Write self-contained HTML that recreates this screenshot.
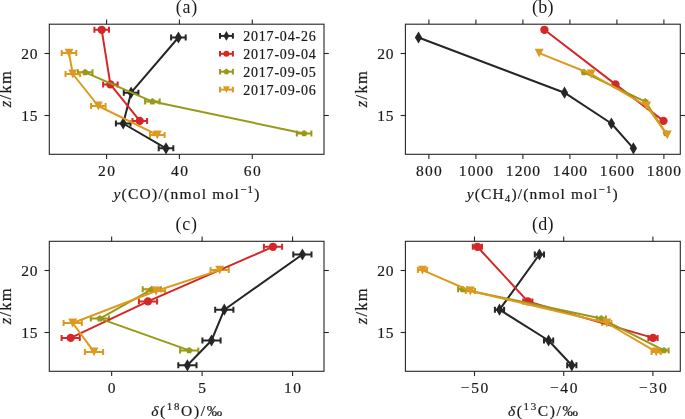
<!DOCTYPE html>
<html><head><meta charset="utf-8"><style>
html,body{margin:0;padding:0;background:#fff;}
svg{display:block;will-change:transform;}
text{font-family:"Liberation Serif",serif;fill:#1a1a1a;stroke:#1a1a1a;stroke-width:0.2px;}
</style></head><body>
<svg width="685" height="419" viewBox="0 0 685 419">
<clipPath id="cpa"><rect x="49.3" y="24.2" width="274.7" height="130.1"/></clipPath>
<clipPath id="cpb"><rect x="405.4" y="24.2" width="274.9" height="130.1"/></clipPath>
<clipPath id="cpc"><rect x="49.3" y="241.3" width="274.7" height="130"/></clipPath>
<clipPath id="cpd"><rect x="405.4" y="241.3" width="274.9" height="130"/></clipPath>
<g clip-path="url(#cpa)">
<line x1="171.1" y1="37.5" x2="185.7" y2="37.5" stroke="#262626" stroke-width="2.0"/>
<line x1="123.8" y1="92.7" x2="138.4" y2="92.7" stroke="#262626" stroke-width="2.0"/>
<line x1="115.9" y1="123.5" x2="130.5" y2="123.5" stroke="#262626" stroke-width="2.0"/>
<line x1="158.7" y1="148.3" x2="173.3" y2="148.3" stroke="#262626" stroke-width="2.0"/>
<line x1="171.1" y1="34.5" x2="171.1" y2="40.5" stroke="#262626" stroke-width="2.0"/>
<line x1="185.7" y1="34.5" x2="185.7" y2="40.5" stroke="#262626" stroke-width="2.0"/>
<line x1="123.8" y1="89.7" x2="123.8" y2="95.7" stroke="#262626" stroke-width="2.0"/>
<line x1="138.4" y1="89.7" x2="138.4" y2="95.7" stroke="#262626" stroke-width="2.0"/>
<line x1="115.9" y1="120.5" x2="115.9" y2="126.5" stroke="#262626" stroke-width="2.0"/>
<line x1="130.5" y1="120.5" x2="130.5" y2="126.5" stroke="#262626" stroke-width="2.0"/>
<line x1="158.7" y1="145.3" x2="158.7" y2="151.3" stroke="#262626" stroke-width="2.0"/>
<line x1="173.3" y1="145.3" x2="173.3" y2="151.3" stroke="#262626" stroke-width="2.0"/>
<line x1="94.4" y1="29.8" x2="109" y2="29.8" stroke="#d62728" stroke-width="2.0"/>
<line x1="103.1" y1="84.4" x2="117.7" y2="84.4" stroke="#d62728" stroke-width="2.0"/>
<line x1="132.5" y1="120.9" x2="147.1" y2="120.9" stroke="#d62728" stroke-width="2.0"/>
<line x1="94.4" y1="26.8" x2="94.4" y2="32.8" stroke="#d62728" stroke-width="2.0"/>
<line x1="109" y1="26.8" x2="109" y2="32.8" stroke="#d62728" stroke-width="2.0"/>
<line x1="103.1" y1="81.4" x2="103.1" y2="87.4" stroke="#d62728" stroke-width="2.0"/>
<line x1="117.7" y1="81.4" x2="117.7" y2="87.4" stroke="#d62728" stroke-width="2.0"/>
<line x1="132.5" y1="117.9" x2="132.5" y2="123.9" stroke="#d62728" stroke-width="2.0"/>
<line x1="147.1" y1="117.9" x2="147.1" y2="123.9" stroke="#d62728" stroke-width="2.0"/>
<line x1="77.9" y1="72.3" x2="92.5" y2="72.3" stroke="#999918" stroke-width="2.0"/>
<line x1="145.1" y1="101.6" x2="159.7" y2="101.6" stroke="#999918" stroke-width="2.0"/>
<line x1="296.8" y1="133.4" x2="311.4" y2="133.4" stroke="#999918" stroke-width="2.0"/>
<line x1="77.9" y1="69.3" x2="77.9" y2="75.3" stroke="#999918" stroke-width="2.0"/>
<line x1="92.5" y1="69.3" x2="92.5" y2="75.3" stroke="#999918" stroke-width="2.0"/>
<line x1="145.1" y1="98.6" x2="145.1" y2="104.6" stroke="#999918" stroke-width="2.0"/>
<line x1="159.7" y1="98.6" x2="159.7" y2="104.6" stroke="#999918" stroke-width="2.0"/>
<line x1="296.8" y1="130.4" x2="296.8" y2="136.4" stroke="#999918" stroke-width="2.0"/>
<line x1="311.4" y1="130.4" x2="311.4" y2="136.4" stroke="#999918" stroke-width="2.0"/>
<line x1="61.7" y1="53.1" x2="76.3" y2="53.1" stroke="#dc9a1e" stroke-width="2.0"/>
<line x1="65.5" y1="74" x2="80.1" y2="74" stroke="#dc9a1e" stroke-width="2.0"/>
<line x1="91" y1="106" x2="105.6" y2="106" stroke="#dc9a1e" stroke-width="2.0"/>
<line x1="150" y1="134.9" x2="164.6" y2="134.9" stroke="#dc9a1e" stroke-width="2.0"/>
<line x1="61.7" y1="50.1" x2="61.7" y2="56.1" stroke="#dc9a1e" stroke-width="2.0"/>
<line x1="76.3" y1="50.1" x2="76.3" y2="56.1" stroke="#dc9a1e" stroke-width="2.0"/>
<line x1="65.5" y1="71" x2="65.5" y2="77" stroke="#dc9a1e" stroke-width="2.0"/>
<line x1="80.1" y1="71" x2="80.1" y2="77" stroke="#dc9a1e" stroke-width="2.0"/>
<line x1="91" y1="103" x2="91" y2="109" stroke="#dc9a1e" stroke-width="2.0"/>
<line x1="105.6" y1="103" x2="105.6" y2="109" stroke="#dc9a1e" stroke-width="2.0"/>
<line x1="150" y1="131.9" x2="150" y2="137.9" stroke="#dc9a1e" stroke-width="2.0"/>
<line x1="164.6" y1="131.9" x2="164.6" y2="137.9" stroke="#dc9a1e" stroke-width="2.0"/>
<polyline points="178.4,37.5 131.1,92.7 123.2,123.5 166,148.3" fill="none" stroke="#262626" stroke-width="2.0" stroke-linejoin="round" stroke-linecap="butt"/>
<path d="M178.4 31.42L182.05 37.5L178.4 43.58L174.75 37.5Z" fill="#262626"/>
<path d="M131.1 86.62L134.75 92.7L131.1 98.78L127.45 92.7Z" fill="#262626"/>
<path d="M123.2 117.42L126.85 123.5L123.2 129.58L119.55 123.5Z" fill="#262626"/>
<path d="M166 142.22L169.65 148.3L166 154.38L162.35 148.3Z" fill="#262626"/>
<polyline points="101.7,29.8 110.4,84.4 139.8,120.9" fill="none" stroke="#d62728" stroke-width="2.0" stroke-linejoin="round" stroke-linecap="butt"/>
<circle cx="101.7" cy="29.8" r="4.15" fill="#d62728"/>
<circle cx="110.4" cy="84.4" r="4.15" fill="#d62728"/>
<circle cx="139.8" cy="120.9" r="4.15" fill="#d62728"/>
<polyline points="85.2,72.3 152.4,101.6 304.1,133.4" fill="none" stroke="#999918" stroke-width="2.0" stroke-linejoin="round" stroke-linecap="butt"/>
<path d="M85.2 68.8L88.53 71.22L87.26 75.13L83.14 75.13L81.87 71.22Z" fill="#999918"/>
<path d="M152.4 98.1L155.73 100.52L154.46 104.43L150.34 104.43L149.07 100.52Z" fill="#999918"/>
<path d="M304.1 129.9L307.43 132.32L306.16 136.23L302.04 136.23L300.77 132.32Z" fill="#999918"/>
<polyline points="69,53.1 72.8,74 98.3,106 157.3,134.9" fill="none" stroke="#dc9a1e" stroke-width="2.0" stroke-linejoin="round" stroke-linecap="butt"/>
<path d="M64.55 48.65L73.45 48.65L69 57.55Z" fill="#dc9a1e"/>
<path d="M68.35 69.55L77.25 69.55L72.8 78.45Z" fill="#dc9a1e"/>
<path d="M93.85 101.55L102.75 101.55L98.3 110.45Z" fill="#dc9a1e"/>
<path d="M152.85 130.45L161.75 130.45L157.3 139.35Z" fill="#dc9a1e"/>
</g>
<rect x="49.3" y="24.2" width="274.7" height="130.1" fill="none" stroke="#262626" stroke-width="1.1"/>
<line x1="106.6" y1="154.3" x2="106.6" y2="159.1" stroke="#262626" stroke-width="1.1"/>
<line x1="106.6" y1="24.2" x2="106.6" y2="19.4" stroke="#262626" stroke-width="1.1"/>
<line x1="179.4" y1="154.3" x2="179.4" y2="159.1" stroke="#262626" stroke-width="1.1"/>
<line x1="179.4" y1="24.2" x2="179.4" y2="19.4" stroke="#262626" stroke-width="1.1"/>
<line x1="252.3" y1="154.3" x2="252.3" y2="159.1" stroke="#262626" stroke-width="1.1"/>
<line x1="252.3" y1="24.2" x2="252.3" y2="19.4" stroke="#262626" stroke-width="1.1"/>
<line x1="44.5" y1="53.5" x2="49.3" y2="53.5" stroke="#262626" stroke-width="1.1"/>
<line x1="324" y1="53.5" x2="328.8" y2="53.5" stroke="#262626" stroke-width="1.1"/>
<line x1="44.5" y1="115.5" x2="49.3" y2="115.5" stroke="#262626" stroke-width="1.1"/>
<line x1="324" y1="115.5" x2="328.8" y2="115.5" stroke="#262626" stroke-width="1.1"/>
<g clip-path="url(#cpb)">
<polyline points="418.5,37.5 564.5,92.7 611.4,123.5 633.4,148.3" fill="none" stroke="#262626" stroke-width="2.0" stroke-linejoin="round" stroke-linecap="butt"/>
<path d="M418.5 31.42L422.15 37.5L418.5 43.58L414.85 37.5Z" fill="#262626"/>
<path d="M564.5 86.62L568.15 92.7L564.5 98.78L560.85 92.7Z" fill="#262626"/>
<path d="M611.4 117.42L615.05 123.5L611.4 129.58L607.75 123.5Z" fill="#262626"/>
<path d="M633.4 142.22L637.05 148.3L633.4 154.38L629.75 148.3Z" fill="#262626"/>
<polyline points="544.4,29.8 615.5,84.4 663.5,120.9" fill="none" stroke="#d62728" stroke-width="2.0" stroke-linejoin="round" stroke-linecap="butt"/>
<circle cx="544.4" cy="29.8" r="4.15" fill="#d62728"/>
<circle cx="615.5" cy="84.4" r="4.15" fill="#d62728"/>
<circle cx="663.5" cy="120.9" r="4.15" fill="#d62728"/>
<polyline points="583.9,72.3 645.3,101.6 666,133.4" fill="none" stroke="#999918" stroke-width="2.0" stroke-linejoin="round" stroke-linecap="butt"/>
<path d="M583.9 68.8L587.23 71.22L585.96 75.13L581.84 75.13L580.57 71.22Z" fill="#999918"/>
<path d="M645.3 98.1L648.63 100.52L647.36 104.43L643.24 104.43L641.97 100.52Z" fill="#999918"/>
<path d="M666 129.9L669.33 132.32L668.06 136.23L663.94 136.23L662.67 132.32Z" fill="#999918"/>
<polyline points="539.2,53.1 591.2,74 646.6,106 667.3,134.9" fill="none" stroke="#dc9a1e" stroke-width="2.0" stroke-linejoin="round" stroke-linecap="butt"/>
<path d="M534.75 48.65L543.65 48.65L539.2 57.55Z" fill="#dc9a1e"/>
<path d="M586.75 69.55L595.65 69.55L591.2 78.45Z" fill="#dc9a1e"/>
<path d="M642.15 101.55L651.05 101.55L646.6 110.45Z" fill="#dc9a1e"/>
<path d="M662.85 130.45L671.75 130.45L667.3 139.35Z" fill="#dc9a1e"/>
</g>
<rect x="405.4" y="24.2" width="274.9" height="130.1" fill="none" stroke="#262626" stroke-width="1.1"/>
<line x1="428.9" y1="154.3" x2="428.9" y2="159.1" stroke="#262626" stroke-width="1.1"/>
<line x1="428.9" y1="24.2" x2="428.9" y2="19.4" stroke="#262626" stroke-width="1.1"/>
<line x1="475.9" y1="154.3" x2="475.9" y2="159.1" stroke="#262626" stroke-width="1.1"/>
<line x1="475.9" y1="24.2" x2="475.9" y2="19.4" stroke="#262626" stroke-width="1.1"/>
<line x1="522.9" y1="154.3" x2="522.9" y2="159.1" stroke="#262626" stroke-width="1.1"/>
<line x1="522.9" y1="24.2" x2="522.9" y2="19.4" stroke="#262626" stroke-width="1.1"/>
<line x1="569.9" y1="154.3" x2="569.9" y2="159.1" stroke="#262626" stroke-width="1.1"/>
<line x1="569.9" y1="24.2" x2="569.9" y2="19.4" stroke="#262626" stroke-width="1.1"/>
<line x1="616.9" y1="154.3" x2="616.9" y2="159.1" stroke="#262626" stroke-width="1.1"/>
<line x1="616.9" y1="24.2" x2="616.9" y2="19.4" stroke="#262626" stroke-width="1.1"/>
<line x1="663.9" y1="154.3" x2="663.9" y2="159.1" stroke="#262626" stroke-width="1.1"/>
<line x1="663.9" y1="24.2" x2="663.9" y2="19.4" stroke="#262626" stroke-width="1.1"/>
<line x1="400.6" y1="53.5" x2="405.4" y2="53.5" stroke="#262626" stroke-width="1.1"/>
<line x1="680.3" y1="53.5" x2="685.1" y2="53.5" stroke="#262626" stroke-width="1.1"/>
<line x1="400.6" y1="115.5" x2="405.4" y2="115.5" stroke="#262626" stroke-width="1.1"/>
<line x1="680.3" y1="115.5" x2="685.1" y2="115.5" stroke="#262626" stroke-width="1.1"/>
<g clip-path="url(#cpc)">
<line x1="293.3" y1="254.5" x2="311.5" y2="254.5" stroke="#262626" stroke-width="2.0"/>
<line x1="215.2" y1="309.7" x2="233.4" y2="309.7" stroke="#262626" stroke-width="2.0"/>
<line x1="202.4" y1="340.5" x2="220.6" y2="340.5" stroke="#262626" stroke-width="2.0"/>
<line x1="178.3" y1="365.3" x2="196.5" y2="365.3" stroke="#262626" stroke-width="2.0"/>
<line x1="293.3" y1="251.5" x2="293.3" y2="257.5" stroke="#262626" stroke-width="2.0"/>
<line x1="311.5" y1="251.5" x2="311.5" y2="257.5" stroke="#262626" stroke-width="2.0"/>
<line x1="215.2" y1="306.7" x2="215.2" y2="312.7" stroke="#262626" stroke-width="2.0"/>
<line x1="233.4" y1="306.7" x2="233.4" y2="312.7" stroke="#262626" stroke-width="2.0"/>
<line x1="202.4" y1="337.5" x2="202.4" y2="343.5" stroke="#262626" stroke-width="2.0"/>
<line x1="220.6" y1="337.5" x2="220.6" y2="343.5" stroke="#262626" stroke-width="2.0"/>
<line x1="178.3" y1="362.3" x2="178.3" y2="368.3" stroke="#262626" stroke-width="2.0"/>
<line x1="196.5" y1="362.3" x2="196.5" y2="368.3" stroke="#262626" stroke-width="2.0"/>
<line x1="263.9" y1="246.8" x2="282.1" y2="246.8" stroke="#d62728" stroke-width="2.0"/>
<line x1="138.9" y1="301.4" x2="157.1" y2="301.4" stroke="#d62728" stroke-width="2.0"/>
<line x1="61.6" y1="337.9" x2="79.8" y2="337.9" stroke="#d62728" stroke-width="2.0"/>
<line x1="263.9" y1="243.8" x2="263.9" y2="249.8" stroke="#d62728" stroke-width="2.0"/>
<line x1="282.1" y1="243.8" x2="282.1" y2="249.8" stroke="#d62728" stroke-width="2.0"/>
<line x1="138.9" y1="298.4" x2="138.9" y2="304.4" stroke="#d62728" stroke-width="2.0"/>
<line x1="157.1" y1="298.4" x2="157.1" y2="304.4" stroke="#d62728" stroke-width="2.0"/>
<line x1="61.6" y1="334.9" x2="61.6" y2="340.9" stroke="#d62728" stroke-width="2.0"/>
<line x1="79.8" y1="334.9" x2="79.8" y2="340.9" stroke="#d62728" stroke-width="2.0"/>
<line x1="142.7" y1="289.3" x2="160.9" y2="289.3" stroke="#999918" stroke-width="2.0"/>
<line x1="90.8" y1="318.6" x2="109" y2="318.6" stroke="#999918" stroke-width="2.0"/>
<line x1="180.1" y1="350.4" x2="198.3" y2="350.4" stroke="#999918" stroke-width="2.0"/>
<line x1="142.7" y1="286.3" x2="142.7" y2="292.3" stroke="#999918" stroke-width="2.0"/>
<line x1="160.9" y1="286.3" x2="160.9" y2="292.3" stroke="#999918" stroke-width="2.0"/>
<line x1="90.8" y1="315.6" x2="90.8" y2="321.6" stroke="#999918" stroke-width="2.0"/>
<line x1="109" y1="315.6" x2="109" y2="321.6" stroke="#999918" stroke-width="2.0"/>
<line x1="180.1" y1="347.4" x2="180.1" y2="353.4" stroke="#999918" stroke-width="2.0"/>
<line x1="198.3" y1="347.4" x2="198.3" y2="353.4" stroke="#999918" stroke-width="2.0"/>
<line x1="210.6" y1="270.1" x2="228.8" y2="270.1" stroke="#dc9a1e" stroke-width="2.0"/>
<line x1="146.9" y1="291" x2="165.1" y2="291" stroke="#dc9a1e" stroke-width="2.0"/>
<line x1="63.6" y1="323" x2="81.8" y2="323" stroke="#dc9a1e" stroke-width="2.0"/>
<line x1="84.9" y1="351.9" x2="103.1" y2="351.9" stroke="#dc9a1e" stroke-width="2.0"/>
<line x1="210.6" y1="267.1" x2="210.6" y2="273.1" stroke="#dc9a1e" stroke-width="2.0"/>
<line x1="228.8" y1="267.1" x2="228.8" y2="273.1" stroke="#dc9a1e" stroke-width="2.0"/>
<line x1="146.9" y1="288" x2="146.9" y2="294" stroke="#dc9a1e" stroke-width="2.0"/>
<line x1="165.1" y1="288" x2="165.1" y2="294" stroke="#dc9a1e" stroke-width="2.0"/>
<line x1="63.6" y1="320" x2="63.6" y2="326" stroke="#dc9a1e" stroke-width="2.0"/>
<line x1="81.8" y1="320" x2="81.8" y2="326" stroke="#dc9a1e" stroke-width="2.0"/>
<line x1="84.9" y1="348.9" x2="84.9" y2="354.9" stroke="#dc9a1e" stroke-width="2.0"/>
<line x1="103.1" y1="348.9" x2="103.1" y2="354.9" stroke="#dc9a1e" stroke-width="2.0"/>
<polyline points="302.4,254.5 224.3,309.7 211.5,340.5 187.4,365.3" fill="none" stroke="#262626" stroke-width="2.0" stroke-linejoin="round" stroke-linecap="butt"/>
<path d="M302.4 248.42L306.05 254.5L302.4 260.58L298.75 254.5Z" fill="#262626"/>
<path d="M224.3 303.62L227.95 309.7L224.3 315.78L220.65 309.7Z" fill="#262626"/>
<path d="M211.5 334.42L215.15 340.5L211.5 346.58L207.85 340.5Z" fill="#262626"/>
<path d="M187.4 359.22L191.05 365.3L187.4 371.38L183.75 365.3Z" fill="#262626"/>
<polyline points="273,246.8 148,301.4 70.7,337.9" fill="none" stroke="#d62728" stroke-width="2.0" stroke-linejoin="round" stroke-linecap="butt"/>
<circle cx="273" cy="246.8" r="4.15" fill="#d62728"/>
<circle cx="148" cy="301.4" r="4.15" fill="#d62728"/>
<circle cx="70.7" cy="337.9" r="4.15" fill="#d62728"/>
<polyline points="151.8,289.3 99.9,318.6 189.2,350.4" fill="none" stroke="#999918" stroke-width="2.0" stroke-linejoin="round" stroke-linecap="butt"/>
<path d="M151.8 285.8L155.13 288.22L153.86 292.13L149.74 292.13L148.47 288.22Z" fill="#999918"/>
<path d="M99.9 315.1L103.23 317.52L101.96 321.43L97.84 321.43L96.57 317.52Z" fill="#999918"/>
<path d="M189.2 346.9L192.53 349.32L191.26 353.23L187.14 353.23L185.87 349.32Z" fill="#999918"/>
<polyline points="219.7,270.1 156,291 72.7,323 94,351.9" fill="none" stroke="#dc9a1e" stroke-width="2.0" stroke-linejoin="round" stroke-linecap="butt"/>
<path d="M215.25 265.65L224.15 265.65L219.7 274.55Z" fill="#dc9a1e"/>
<path d="M151.55 286.55L160.45 286.55L156 295.45Z" fill="#dc9a1e"/>
<path d="M68.25 318.55L77.15 318.55L72.7 327.45Z" fill="#dc9a1e"/>
<path d="M89.55 347.45L98.45 347.45L94 356.35Z" fill="#dc9a1e"/>
</g>
<rect x="49.3" y="241.3" width="274.7" height="130" fill="none" stroke="#262626" stroke-width="1.1"/>
<line x1="111.65" y1="371.3" x2="111.65" y2="376.1" stroke="#262626" stroke-width="1.1"/>
<line x1="111.65" y1="241.3" x2="111.65" y2="236.5" stroke="#262626" stroke-width="1.1"/>
<line x1="202.1" y1="371.3" x2="202.1" y2="376.1" stroke="#262626" stroke-width="1.1"/>
<line x1="202.1" y1="241.3" x2="202.1" y2="236.5" stroke="#262626" stroke-width="1.1"/>
<line x1="292.55" y1="371.3" x2="292.55" y2="376.1" stroke="#262626" stroke-width="1.1"/>
<line x1="292.55" y1="241.3" x2="292.55" y2="236.5" stroke="#262626" stroke-width="1.1"/>
<line x1="44.5" y1="270.5" x2="49.3" y2="270.5" stroke="#262626" stroke-width="1.1"/>
<line x1="324" y1="270.5" x2="328.8" y2="270.5" stroke="#262626" stroke-width="1.1"/>
<line x1="44.5" y1="332.5" x2="49.3" y2="332.5" stroke="#262626" stroke-width="1.1"/>
<line x1="324" y1="332.5" x2="328.8" y2="332.5" stroke="#262626" stroke-width="1.1"/>
<g clip-path="url(#cpd)">
<line x1="534.8" y1="254.5" x2="544" y2="254.5" stroke="#262626" stroke-width="2.0"/>
<line x1="494.9" y1="309.7" x2="504.1" y2="309.7" stroke="#262626" stroke-width="2.0"/>
<line x1="544" y1="340.5" x2="553.2" y2="340.5" stroke="#262626" stroke-width="2.0"/>
<line x1="567.2" y1="365.3" x2="576.4" y2="365.3" stroke="#262626" stroke-width="2.0"/>
<line x1="534.8" y1="251.5" x2="534.8" y2="257.5" stroke="#262626" stroke-width="2.0"/>
<line x1="544" y1="251.5" x2="544" y2="257.5" stroke="#262626" stroke-width="2.0"/>
<line x1="494.9" y1="306.7" x2="494.9" y2="312.7" stroke="#262626" stroke-width="2.0"/>
<line x1="504.1" y1="306.7" x2="504.1" y2="312.7" stroke="#262626" stroke-width="2.0"/>
<line x1="544" y1="337.5" x2="544" y2="343.5" stroke="#262626" stroke-width="2.0"/>
<line x1="553.2" y1="337.5" x2="553.2" y2="343.5" stroke="#262626" stroke-width="2.0"/>
<line x1="567.2" y1="362.3" x2="567.2" y2="368.3" stroke="#262626" stroke-width="2.0"/>
<line x1="576.4" y1="362.3" x2="576.4" y2="368.3" stroke="#262626" stroke-width="2.0"/>
<line x1="472.8" y1="246.8" x2="482" y2="246.8" stroke="#d62728" stroke-width="2.0"/>
<line x1="523.2" y1="301.4" x2="532.4" y2="301.4" stroke="#d62728" stroke-width="2.0"/>
<line x1="648.4" y1="337.9" x2="657.6" y2="337.9" stroke="#d62728" stroke-width="2.0"/>
<line x1="472.8" y1="243.8" x2="472.8" y2="249.8" stroke="#d62728" stroke-width="2.0"/>
<line x1="482" y1="243.8" x2="482" y2="249.8" stroke="#d62728" stroke-width="2.0"/>
<line x1="523.2" y1="298.4" x2="523.2" y2="304.4" stroke="#d62728" stroke-width="2.0"/>
<line x1="532.4" y1="298.4" x2="532.4" y2="304.4" stroke="#d62728" stroke-width="2.0"/>
<line x1="648.4" y1="334.9" x2="648.4" y2="340.9" stroke="#d62728" stroke-width="2.0"/>
<line x1="657.6" y1="334.9" x2="657.6" y2="340.9" stroke="#d62728" stroke-width="2.0"/>
<line x1="458.1" y1="289.3" x2="467.3" y2="289.3" stroke="#999918" stroke-width="2.0"/>
<line x1="596.7" y1="318.6" x2="605.9" y2="318.6" stroke="#999918" stroke-width="2.0"/>
<line x1="659.4" y1="350.4" x2="668.6" y2="350.4" stroke="#999918" stroke-width="2.0"/>
<line x1="458.1" y1="286.3" x2="458.1" y2="292.3" stroke="#999918" stroke-width="2.0"/>
<line x1="467.3" y1="286.3" x2="467.3" y2="292.3" stroke="#999918" stroke-width="2.0"/>
<line x1="596.7" y1="315.6" x2="596.7" y2="321.6" stroke="#999918" stroke-width="2.0"/>
<line x1="605.9" y1="315.6" x2="605.9" y2="321.6" stroke="#999918" stroke-width="2.0"/>
<line x1="659.4" y1="347.4" x2="659.4" y2="353.4" stroke="#999918" stroke-width="2.0"/>
<line x1="668.6" y1="347.4" x2="668.6" y2="353.4" stroke="#999918" stroke-width="2.0"/>
<line x1="417.9" y1="270.1" x2="427.1" y2="270.1" stroke="#dc9a1e" stroke-width="2.0"/>
<line x1="465.8" y1="291" x2="475" y2="291" stroke="#dc9a1e" stroke-width="2.0"/>
<line x1="602.2" y1="323" x2="611.4" y2="323" stroke="#dc9a1e" stroke-width="2.0"/>
<line x1="651.6" y1="351.9" x2="660.8" y2="351.9" stroke="#dc9a1e" stroke-width="2.0"/>
<line x1="417.9" y1="267.1" x2="417.9" y2="273.1" stroke="#dc9a1e" stroke-width="2.0"/>
<line x1="427.1" y1="267.1" x2="427.1" y2="273.1" stroke="#dc9a1e" stroke-width="2.0"/>
<line x1="465.8" y1="288" x2="465.8" y2="294" stroke="#dc9a1e" stroke-width="2.0"/>
<line x1="475" y1="288" x2="475" y2="294" stroke="#dc9a1e" stroke-width="2.0"/>
<line x1="602.2" y1="320" x2="602.2" y2="326" stroke="#dc9a1e" stroke-width="2.0"/>
<line x1="611.4" y1="320" x2="611.4" y2="326" stroke="#dc9a1e" stroke-width="2.0"/>
<line x1="651.6" y1="348.9" x2="651.6" y2="354.9" stroke="#dc9a1e" stroke-width="2.0"/>
<line x1="660.8" y1="348.9" x2="660.8" y2="354.9" stroke="#dc9a1e" stroke-width="2.0"/>
<polyline points="539.4,254.5 499.5,309.7 548.6,340.5 571.8,365.3" fill="none" stroke="#262626" stroke-width="2.0" stroke-linejoin="round" stroke-linecap="butt"/>
<path d="M539.4 248.42L543.05 254.5L539.4 260.58L535.75 254.5Z" fill="#262626"/>
<path d="M499.5 303.62L503.15 309.7L499.5 315.78L495.85 309.7Z" fill="#262626"/>
<path d="M548.6 334.42L552.25 340.5L548.6 346.58L544.95 340.5Z" fill="#262626"/>
<path d="M571.8 359.22L575.45 365.3L571.8 371.38L568.15 365.3Z" fill="#262626"/>
<polyline points="477.4,246.8 527.8,301.4 653,337.9" fill="none" stroke="#d62728" stroke-width="2.0" stroke-linejoin="round" stroke-linecap="butt"/>
<circle cx="477.4" cy="246.8" r="4.15" fill="#d62728"/>
<circle cx="527.8" cy="301.4" r="4.15" fill="#d62728"/>
<circle cx="653" cy="337.9" r="4.15" fill="#d62728"/>
<polyline points="462.7,289.3 601.3,318.6 664,350.4" fill="none" stroke="#999918" stroke-width="2.0" stroke-linejoin="round" stroke-linecap="butt"/>
<path d="M462.7 285.8L466.03 288.22L464.76 292.13L460.64 292.13L459.37 288.22Z" fill="#999918"/>
<path d="M601.3 315.1L604.63 317.52L603.36 321.43L599.24 321.43L597.97 317.52Z" fill="#999918"/>
<path d="M664 346.9L667.33 349.32L666.06 353.23L661.94 353.23L660.67 349.32Z" fill="#999918"/>
<polyline points="422.5,270.1 470.4,291 606.8,323 656.2,351.9" fill="none" stroke="#dc9a1e" stroke-width="2.0" stroke-linejoin="round" stroke-linecap="butt"/>
<path d="M418.05 265.65L426.95 265.65L422.5 274.55Z" fill="#dc9a1e"/>
<path d="M465.95 286.55L474.85 286.55L470.4 295.45Z" fill="#dc9a1e"/>
<path d="M602.35 318.55L611.25 318.55L606.8 327.45Z" fill="#dc9a1e"/>
<path d="M651.75 347.45L660.65 347.45L656.2 356.35Z" fill="#dc9a1e"/>
</g>
<rect x="405.4" y="241.3" width="274.9" height="130" fill="none" stroke="#262626" stroke-width="1.1"/>
<line x1="474.5" y1="371.3" x2="474.5" y2="376.1" stroke="#262626" stroke-width="1.1"/>
<line x1="474.5" y1="241.3" x2="474.5" y2="236.5" stroke="#262626" stroke-width="1.1"/>
<line x1="563.7" y1="371.3" x2="563.7" y2="376.1" stroke="#262626" stroke-width="1.1"/>
<line x1="563.7" y1="241.3" x2="563.7" y2="236.5" stroke="#262626" stroke-width="1.1"/>
<line x1="652.9" y1="371.3" x2="652.9" y2="376.1" stroke="#262626" stroke-width="1.1"/>
<line x1="652.9" y1="241.3" x2="652.9" y2="236.5" stroke="#262626" stroke-width="1.1"/>
<line x1="400.6" y1="270.5" x2="405.4" y2="270.5" stroke="#262626" stroke-width="1.1"/>
<line x1="680.3" y1="270.5" x2="685.1" y2="270.5" stroke="#262626" stroke-width="1.1"/>
<line x1="400.6" y1="332.5" x2="405.4" y2="332.5" stroke="#262626" stroke-width="1.1"/>
<line x1="680.3" y1="332.5" x2="685.1" y2="332.5" stroke="#262626" stroke-width="1.1"/>
<g>
<g font-size="15.5">
<text x="106.6" y="176" text-anchor="middle" textLength="17.05" lengthAdjust="spacing">20</text>
<text x="179.4" y="176" text-anchor="middle" textLength="17.05" lengthAdjust="spacing">40</text>
<text x="252.3" y="176" text-anchor="middle" textLength="17.05" lengthAdjust="spacing">60</text>
<text x="37.5" y="58.5" text-anchor="end" textLength="16.28" lengthAdjust="spacing">20</text>
<text x="37.5" y="120.5" text-anchor="end" textLength="16.28" lengthAdjust="spacing">15</text>
<text x="428.9" y="176" text-anchor="middle" textLength="25.58" lengthAdjust="spacing">800</text>
<text x="475.9" y="176" text-anchor="middle" textLength="34.1" lengthAdjust="spacing">1000</text>
<text x="522.9" y="176" text-anchor="middle" textLength="34.1" lengthAdjust="spacing">1200</text>
<text x="569.9" y="176" text-anchor="middle" textLength="34.1" lengthAdjust="spacing">1400</text>
<text x="616.9" y="176" text-anchor="middle" textLength="34.1" lengthAdjust="spacing">1600</text>
<text x="663.9" y="176" text-anchor="middle" textLength="34.1" lengthAdjust="spacing">1800</text>
<text x="393.6" y="58.5" text-anchor="end" textLength="16.28" lengthAdjust="spacing">20</text>
<text x="393.6" y="120.5" text-anchor="end" textLength="16.28" lengthAdjust="spacing">15</text>
<text x="111.65" y="393" text-anchor="middle">0</text>
<text x="202.1" y="393" text-anchor="middle">5</text>
<text x="292.55" y="393" text-anchor="middle" textLength="17.05" lengthAdjust="spacing">10</text>
<text x="37.5" y="275.5" text-anchor="end" textLength="16.28" lengthAdjust="spacing">20</text>
<text x="37.5" y="337.5" text-anchor="end" textLength="16.28" lengthAdjust="spacing">15</text>
<text x="474.5" y="393" text-anchor="middle" textLength="27.64" lengthAdjust="spacing">−50</text>
<text x="563.7" y="393" text-anchor="middle" textLength="27.64" lengthAdjust="spacing">−40</text>
<text x="652.9" y="393" text-anchor="middle" textLength="27.64" lengthAdjust="spacing">−30</text>
<text x="393.6" y="275.5" text-anchor="end" textLength="16.28" lengthAdjust="spacing">20</text>
<text x="393.6" y="337.5" text-anchor="end" textLength="16.28" lengthAdjust="spacing">15</text>
</g>
<text x="186.4" y="12.7" text-anchor="middle" textLength="21.5" lengthAdjust="spacing" style="stroke-width:0" font-size="18">(a)</text>
<text x="542.8" y="12.7" text-anchor="middle" textLength="21.5" lengthAdjust="spacing" style="stroke-width:0" font-size="18">(b)</text>
<text x="186.3" y="229.8" text-anchor="middle" textLength="21.5" lengthAdjust="spacing" style="stroke-width:0" font-size="18">(c)</text>
<text x="542.8" y="229.8" text-anchor="middle" textLength="21.5" lengthAdjust="spacing" style="stroke-width:0" font-size="18">(d)</text>
<text transform="translate(11.3 89.2) rotate(-90)" text-anchor="middle" textLength="36" lengthAdjust="spacing" font-size="16.5"><tspan font-style="italic">z</tspan>/km</text>
<text transform="translate(367.4 89.2) rotate(-90)" text-anchor="middle" textLength="36" lengthAdjust="spacing" font-size="16.5"><tspan font-style="italic">z</tspan>/km</text>
<text transform="translate(11.3 306.3) rotate(-90)" text-anchor="middle" textLength="36" lengthAdjust="spacing" font-size="16.5"><tspan font-style="italic">z</tspan>/km</text>
<text transform="translate(367.4 306.3) rotate(-90)" text-anchor="middle" textLength="36" lengthAdjust="spacing" font-size="16.5"><tspan font-style="italic">z</tspan>/km</text>
<text x="186.5" y="198.8" text-anchor="middle" textLength="146" lengthAdjust="spacing" font-size="15.5"><tspan font-style="italic">y</tspan>(CO)/(nmol mol<tspan font-size="11" dy="-6">−1</tspan><tspan dy="6">)</tspan></text>
<text x="542.2" y="198.8" text-anchor="middle" textLength="151" lengthAdjust="spacing" font-size="15.5"><tspan font-style="italic">y</tspan>(CH<tspan font-size="11" dy="3">4</tspan><tspan dy="-3">)/(nmol mol</tspan><tspan font-size="11" dy="-6">−1</tspan><tspan dy="6">)</tspan></text>
<text x="186.7" y="415.8" text-anchor="middle" textLength="71" lengthAdjust="spacing" font-size="15.5"><tspan font-style="italic">δ</tspan>(<tspan font-size="11" dy="-6">18</tspan><tspan dy="6">O)/‰</tspan></text>
<text x="542.9" y="415.8" text-anchor="middle" textLength="70" lengthAdjust="spacing" font-size="15.5"><tspan font-style="italic">δ</tspan>(<tspan font-size="11" dy="-6">13</tspan><tspan dy="6">C)/‰</tspan></text>
<line x1="220.0" y1="35.90" x2="232.9" y2="35.90" stroke="#262626" stroke-width="2"/>
<line x1="220.0" y1="33.10" x2="220.0" y2="38.70" stroke="#262626" stroke-width="2"/>
<line x1="232.9" y1="33.10" x2="232.9" y2="38.70" stroke="#262626" stroke-width="2"/>
<path d="M226.40 31.09L229.28 35.90L226.40 40.71L223.52 35.90Z" fill="#262626"/>
<text x="243.2" y="41.20" font-size="14" textLength="72.5" lengthAdjust="spacing">2017-04-26</text>
<line x1="220.0" y1="53.80" x2="232.9" y2="53.80" stroke="#d62728" stroke-width="2"/>
<line x1="220.0" y1="51.00" x2="220.0" y2="56.60" stroke="#d62728" stroke-width="2"/>
<line x1="232.9" y1="51.00" x2="232.9" y2="56.60" stroke="#d62728" stroke-width="2"/>
<circle cx="226.40" cy="53.80" r="3.00" fill="#d62728"/>
<text x="243.2" y="59.10" font-size="14" textLength="72.5" lengthAdjust="spacing">2017-09-04</text>
<line x1="220.0" y1="71.70" x2="232.9" y2="71.70" stroke="#999918" stroke-width="2"/>
<line x1="220.0" y1="68.90" x2="220.0" y2="74.50" stroke="#999918" stroke-width="2"/>
<line x1="232.9" y1="68.90" x2="232.9" y2="74.50" stroke="#999918" stroke-width="2"/>
<path d="M226.40 68.60L229.35 70.74L228.22 74.21L224.58 74.21L223.45 70.74Z" fill="#999918"/>
<text x="243.2" y="77.00" font-size="14" textLength="72.5" lengthAdjust="spacing">2017-09-05</text>
<line x1="220.0" y1="89.60" x2="232.9" y2="89.60" stroke="#dc9a1e" stroke-width="2"/>
<line x1="220.0" y1="86.80" x2="220.0" y2="92.40" stroke="#dc9a1e" stroke-width="2"/>
<line x1="232.9" y1="86.80" x2="232.9" y2="92.40" stroke="#dc9a1e" stroke-width="2"/>
<path d="M223.00 86.20L229.80 86.20L226.40 93.00Z" fill="#dc9a1e"/>
<text x="243.2" y="94.90" font-size="14" textLength="72.5" lengthAdjust="spacing">2017-09-06</text>
</g>
</svg>
</body></html>
